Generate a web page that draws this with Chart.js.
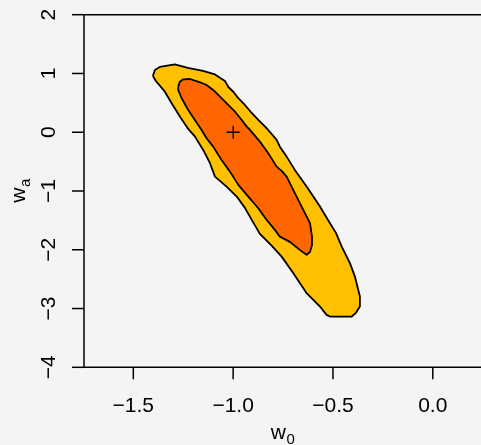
<!DOCTYPE html>
<html>
<head>
<meta charset="utf-8">
<script src="https://cdn.jsdelivr.net/npm/chart.js@4.4.1/dist/chart.umd.min.js"></script>
<style>
  html, body { margin: 0; padding: 0; background: #f4f4f4; overflow: hidden; }
  #wrap { width: 481px; height: 445px; }
</style>
</head>
<body>
<div id="wrap"><canvas id="chart" width="481" height="445"></canvas></div>
<script>
// outer contour (yellow)
const outerW0 = [-1.402, -1.392, -1.367, -1.292, -1.227, -1.151, -1.091, -1.041, -1.024, -0.998,
  -0.973, -0.941, -0.907, -0.874, -0.832, -0.782, -0.766, -0.732, -0.691, -0.632,
  -0.565, -0.515, -0.485, -0.456, -0.415, -0.390, -0.365, -0.365, -0.385, -0.406,
  -0.515, -0.532, -0.565, -0.632, -0.700, -0.756, -0.806, -0.866, -0.906, -0.941,
  -0.982, -1.033, -1.091, -1.116, -1.150, -1.191, -1.225, -1.266, -1.308, -1.342, -1.387];
const outerWa = [0.957, 1.060, 1.111, 1.153, 1.094, 1.043, 0.983, 0.872, 0.770, 0.685,
  0.575, 0.464, 0.328, 0.209, 0.068, -0.131, -0.245, -0.415, -0.641, -0.925,
  -1.265, -1.548, -1.713, -1.946, -2.228, -2.456, -2.796, -2.966, -3.073, -3.136,
  -3.136, -3.107, -2.966, -2.738, -2.393, -2.121, -1.934, -1.730, -1.495, -1.287,
  -1.095, -0.925, -0.755, -0.527, -0.301, -0.075, 0.056, 0.265, 0.493, 0.690, 0.872];

// inner contour (orange)
const innerW0 = [-1.275, -1.267, -1.250, -1.216, -1.166, -1.133, -1.100, -1.066, -1.025, -0.991,
  -0.957, -0.932, -0.916, -0.866, -0.824, -0.782, -0.757, -0.732, -0.691, -0.657,
  -0.615, -0.605, -0.605, -0.615, -0.632, -0.666, -0.716, -0.766, -0.791, -0.832,
  -0.874, -0.924, -0.974, -1.016, -1.058, -1.100, -1.133, -1.158, -1.175, -1.225, -1.258, -1.275];
const innerWa = [0.776, 0.861, 0.901, 0.906, 0.850, 0.804, 0.719, 0.605, 0.464, 0.350,
  0.209, 0.095, 0.039, -0.160, -0.357, -0.585, -0.658, -0.755, -1.037, -1.265,
  -1.548, -1.776, -1.917, -2.036, -2.087, -2.002, -1.866, -1.776, -1.662, -1.492,
  -1.293, -1.095, -0.896, -0.670, -0.471, -0.245, -0.102, 0.039, 0.124, 0.379, 0.578, 0.719];

// fiducial point
const fidW0 = [-1.0];
const fidWa = [0.0];

const xTicks = [-1.5, -1.0, -0.5, 0.0];
const yTicks = [-4, -3, -2, -1, 0, 1, 2];

const FONT = '"Liberation Sans", Arial, sans-serif';

function toPoints(xs, ys, close) {
  const pts = xs.map((x, i) => ({ x: x, y: ys[i] }));
  if (close) pts.push({ x: xs[0], y: ys[0] });
  return pts;
}

function fmt(v, digits) {
  const s = Math.abs(v).toFixed(digits);
  return v < 0 ? '\u2212' + s : s;
}

// fond gris
const bgPlugin = {
  id: 'bg',
  beforeDraw(chart) {
    const ctx = chart.ctx;
    ctx.save();
    ctx.fillStyle = '#f4f4f4';
    ctx.fillRect(0, 0, chart.width, chart.height);
    ctx.restore();
  }
};

// axes facon R
const axesPlugin = {
  id: 'rAxes',
  afterDraw(chart) {
    const ctx = chart.ctx;
    const a = chart.chartArea;
    const xs = chart.scales.x, ys = chart.scales.y;
    ctx.save();
    ctx.strokeStyle = '#000';
    ctx.fillStyle = '#000';
    ctx.lineWidth = 1.5;
    ctx.beginPath();
    ctx.moveTo(a.right + 2, a.top);
    ctx.lineTo(a.left, a.top);
    ctx.lineTo(a.left, a.bottom);
    ctx.lineTo(a.right + 2, a.bottom);
    ctx.stroke();

    ctx.font = '21px ' + FONT;
    ctx.textAlign = 'center';
    ctx.textBaseline = 'alphabetic';
    xTicks.forEach(v => {
      const px = xs.getPixelForValue(v);
      ctx.beginPath();
      ctx.moveTo(px, a.bottom);
      ctx.lineTo(px, a.bottom + 12);
      ctx.stroke();
      ctx.fillText(fmt(v, 1), px, 411.5);
    });
    yTicks.forEach(v => {
      const py = ys.getPixelForValue(v);
      ctx.beginPath();
      ctx.moveTo(a.left, py);
      ctx.lineTo(a.left - 12, py);
      ctx.stroke();
      ctx.save();
      ctx.translate(55, py);
      ctx.rotate(-Math.PI / 2);
      ctx.fillText(fmt(v, 0), 0, 0);
      ctx.restore();
    });

    // titres avec indice
    const drawSub = (main, sub, cx, base) => {
      ctx.font = '21px ' + FONT;
      const w1 = ctx.measureText(main).width;
      ctx.font = '15px ' + FONT;
      const w2 = ctx.measureText(sub).width;
      const x0 = cx - (w1 + w2) / 2;
      ctx.textAlign = 'left';
      ctx.font = '21px ' + FONT;
      ctx.fillText(main, x0, base);
      ctx.font = '15px ' + FONT;
      ctx.fillText(sub, x0 + w1 + 0.5, base + 5);
    };
    drawSub('w', '0', (a.left + a.right) / 2, 439);
    ctx.save();
    ctx.translate(25, (a.top + a.bottom) / 2);
    ctx.rotate(-Math.PI / 2);
    drawSub('w', 'a', 0, 0);
    ctx.restore();
    ctx.restore();
  }
};

new Chart(document.getElementById('chart'), {
  type: 'line',
  data: {
    datasets: [
      {
        data: toPoints(fidW0, fidWa, false),
        showLine: false,
        pointStyle: 'cross',
        pointRadius: 6.5,
        pointBorderColor: '#000',
        pointBorderWidth: 1.3,
        order: 1
      },
      {
        data: toPoints(innerW0, innerWa, true),
        borderColor: '#000',
        borderWidth: 1.8,
        backgroundColor: '#ff6600',
        fill: 'shape',
        tension: 0,
        pointRadius: 0,
        borderJoinStyle: 'round',
        order: 2
      },
      {
        data: toPoints(outerW0, outerWa, true),
        borderColor: '#000',
        borderWidth: 1.8,
        backgroundColor: '#ffc000',
        fill: 'shape',
        tension: 0,
        pointRadius: 0,
        borderJoinStyle: 'round',
        order: 3
      }
    ]
  },
  options: {
    responsive: false,
    animation: false,
    devicePixelRatio: 1,
    layout: { autoPadding: false, padding: { left: 84, top: 14.7, right: 0, bottom: 77.7 } },
    plugins: { legend: { display: false }, tooltip: { enabled: false } },
    scales: {
      x: { type: 'linear', min: -1.747, max: 0.2415, display: false },
      y: { type: 'linear', min: -4, max: 2, display: false }
    }
  },
  plugins: [bgPlugin, axesPlugin]
});
</script>
</body>
</html>
